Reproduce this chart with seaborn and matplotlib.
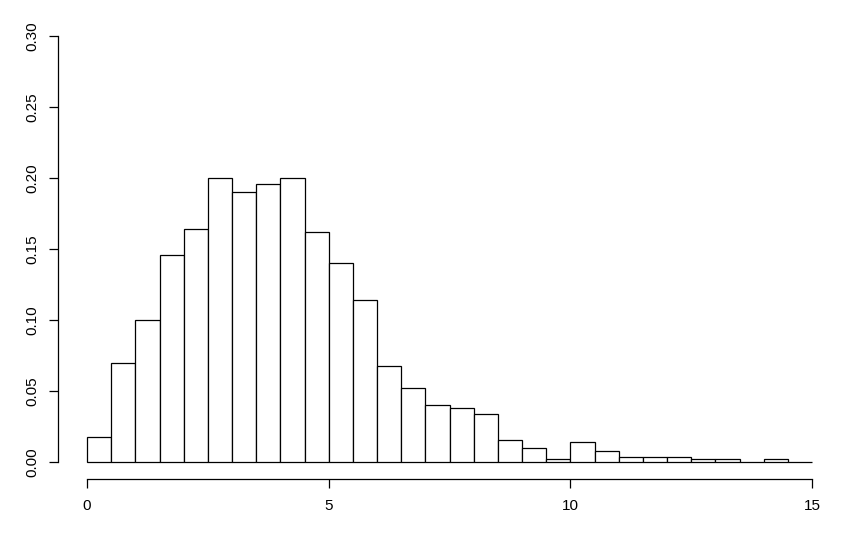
"""
R 风格的密度直方图重绘（bin 宽 0.5，0 到 15）。
"""
import numpy as np
import pandas as pd
import matplotlib
matplotlib.use('Agg')
import matplotlib.pyplot as plt
import seaborn as sns

# 各区间左端点与密度高度
bin_left = [0.0, 0.5, 1.0, 1.5, 2.0, 2.5, 3.0, 3.5, 4.0, 4.5,
            5.0, 5.5, 6.0, 6.5, 7.0, 7.5, 8.0, 8.5, 9.0, 9.5,
            10.0, 10.5, 11.0, 11.5, 12.0, 12.5, 13.0, 13.5, 14.0, 14.5]
density = [0.018, 0.070, 0.100, 0.146, 0.164, 0.200, 0.190, 0.196, 0.200, 0.162,
           0.140, 0.114, 0.068, 0.052, 0.040, 0.038, 0.034, 0.016, 0.010, 0.002,
           0.014, 0.008, 0.004, 0.004, 0.004, 0.002, 0.002, 0.000, 0.002, 0.000]
bin_edges = [0.0, 0.5, 1.0, 1.5, 2.0, 2.5, 3.0, 3.5, 4.0, 4.5, 5.0,
             5.5, 6.0, 6.5, 7.0, 7.5, 8.0, 8.5, 9.0, 9.5, 10.0,
             10.5, 11.0, 11.5, 12.0, 12.5, 13.0, 13.5, 14.0, 14.5, 15.0]
x_ticks = [0, 5, 10, 15]
y_ticks = [0.00, 0.05, 0.10, 0.15, 0.20, 0.25, 0.30]

sns.set_style('white')
plt.rcParams['font.family'] = ['Liberation Sans', 'DejaVu Sans']

df = pd.DataFrame({'x': np.array(bin_left) + 0.25, 'w': density})

fig = plt.figure(figsize=(8.61, 5.37), dpi=100)
ax = fig.add_axes([0.0674, 0.1073, 0.9094, 0.858])

sns.histplot(data=df, x='x', weights='w', bins=bin_edges, stat='count',
             color='white', edgecolor='black', linewidth=0.9, alpha=1, ax=ax)

ax.set_xlim(-0.6, 15.6)
ax.set_ylim(-0.012, 0.312)
ax.set_xticks(x_ticks)
ax.set_xticklabels([str(t) for t in x_ticks])
ax.set_yticks(y_ticks)
ax.set_yticklabels([f'{t:.2f}' for t in y_ticks], rotation=90, va='center')
ax.set_xlabel('')
ax.set_ylabel('')

# R 风格坐标轴：只画刻度范围内的轴线
for side in ['top', 'right']:
    ax.spines[side].set_visible(False)
ax.spines['left'].set_bounds(0, 0.30)
ax.spines['bottom'].set_bounds(0, 15)
for side in ['left', 'bottom']:
    ax.spines[side].set_color('black')
    ax.spines[side].set_linewidth(0.9)
ax.tick_params(axis='both', direction='out', length=6.3, width=0.9,
               color='black', labelsize=11, labelcolor='black',
               left=True, bottom=True)
ax.tick_params(axis='x', pad=7.8)
ax.tick_params(axis='y', pad=7.2)

plt.savefig('out.png', dpi=100)
plt.close()
